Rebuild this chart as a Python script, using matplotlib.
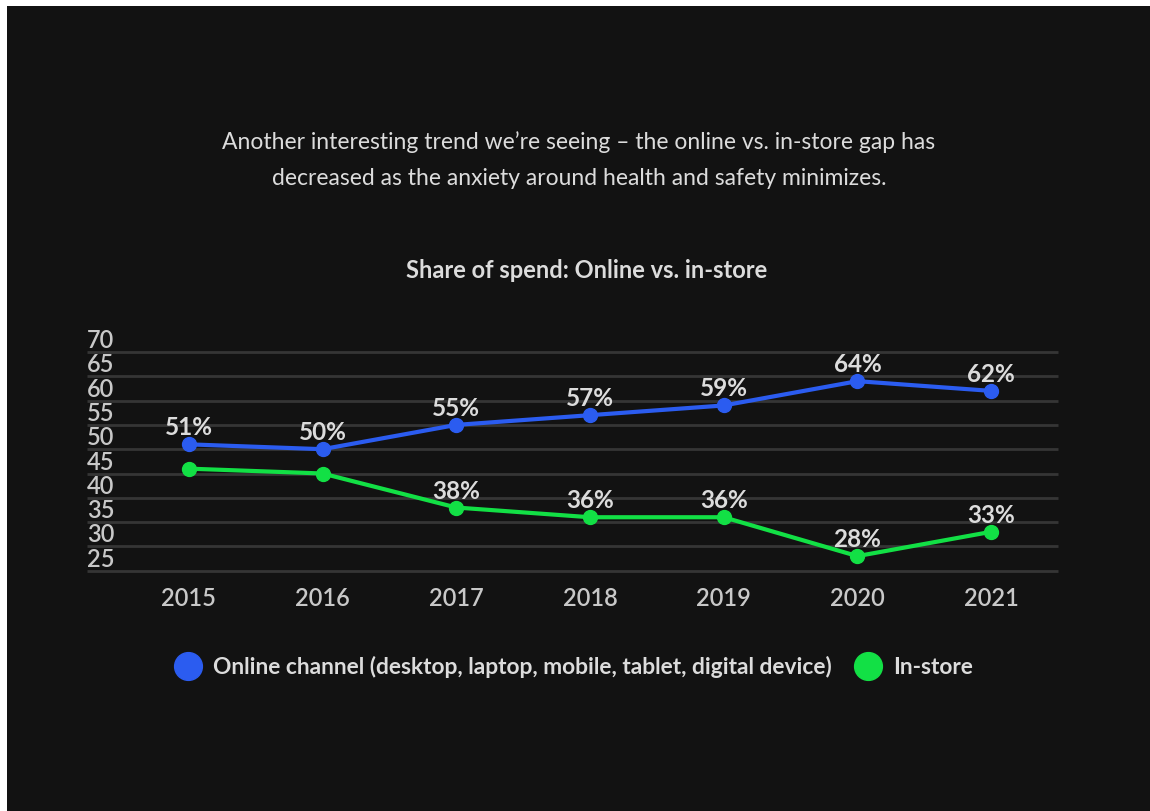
import matplotlib.pyplot as plt
from matplotlib.lines import Line2D
from matplotlib.patches import Rectangle

years = ['2015', '2016', '2017', '2018', '2019', '2020', '2021']
online = [51, 50, 55, 57, 59, 64, 62]
instore = [46, 45, 38, 36, 36, 28, 33]
# the in-store labels for 2015 and 2016 are not shown in the original
instore_labels = [None, None, '38%', '36%', '36%', '28%', '33%']
online_labels = [f'{v}%' for v in online]
yticks = [25, 30, 35, 40, 45, 50, 55, 60, 65, 70]

BG = '#121212'
BLUE = '#2b5cf0'
GREEN = '#12e045'
TEXT = '#dcdcdc'
GRID = '#353535'

plt.rcParams['font.family'] = ['Lato', 'DejaVu Sans']

fig = plt.figure(figsize=(11.5, 8.11), dpi=100, facecolor='white')
# dark card with a thin white margin at top and left
fig.patches.append(Rectangle((7 / 1150, 0), 1, 1 - 6 / 811, transform=fig.transFigure,
                             facecolor=BG, edgecolor='none', zorder=-10))

ax = fig.add_axes([122 / 1150, 1 - 570.7 / 811, 936 / 1150, (570.7 - 352) / 811])
ax.set_zorder(2)
ax.set_facecolor('none')
ax.set_xlim(-0.5, 6.5)
ax.set_ylim(25, 70)
for s in ax.spines.values():
    s.set_visible(False)

x = list(range(len(years)))
grid_left = -0.762
ax.hlines(yticks, grid_left, 6.5, colors=GRID, linewidth=2, clip_on=False, zorder=1)
for v in yticks:
    ax.annotate(str(v), (grid_left, v), xytext=(0, 4), textcoords='offset pixels',
                ha='left', va='baseline', fontsize=17, fontweight='semibold', color='#c8c8c8',
                annotation_clip=False)
ax.set_yticks([])

ax.set_xticks(x)
ax.set_xticklabels(years, fontsize=17, color='#c8c8c8', fontweight='semibold')
ax.tick_params(axis='x', length=0, pad=12)

ax.plot(x, online, color=BLUE, linewidth=3, marker='o', markersize=10, clip_on=False, zorder=3)
ax.plot(x, instore, color=GREEN, linewidth=3, marker='o', markersize=10, clip_on=False, zorder=3)

for xi, v, lab in zip(x, online, online_labels):
    ax.annotate(lab, (xi, v), xytext=(0, 9), textcoords='offset pixels', ha='center',
                va='baseline', fontsize=17.5, fontweight='bold', color=TEXT, annotation_clip=False)
for xi, v, lab in zip(x, instore, instore_labels):
    if lab:
        ax.annotate(lab, (xi, v), xytext=(0, 9), textcoords='offset pixels', ha='center',
                    va='baseline', fontsize=17.5, fontweight='bold', color=TEXT, annotation_clip=False)

fig.text(579 / 1150, 1 - 160 / 811,
         'Another interesting trend we\u2019re seeing \u2013 the online vs. in-store gap has\n'
         'decreased as the anxiety around health and safety minimizes.',
         ha='center', va='center', fontsize=16.5, color=TEXT, linespacing=1.85)
fig.text(587 / 1150, 1 - 271 / 811, 'Share of spend: Online vs. in-store',
         ha='center', va='center', fontsize=17, fontweight='bold', color=TEXT)

handles = [Line2D([], [], linestyle='none', marker='o', markersize=20, color=BLUE),
           Line2D([], [], linestyle='none', marker='o', markersize=20, color=GREEN)]
leg = fig.legend(handles, ['Online channel (desktop, laptop, mobile, tablet, digital device)', 'In-store'],
                 loc='center', bbox_to_anchor=(574 / 1150, 1 - 667 / 811), ncol=2, frameon=False,
                 handletextpad=0.5, columnspacing=1.0, handlelength=1.2,
                 prop={'size': 16.4, 'weight': 'bold'})
for t in leg.get_texts():
    t.set_color(TEXT)

fig.savefig('out.png', dpi=100, facecolor=fig.get_facecolor())
